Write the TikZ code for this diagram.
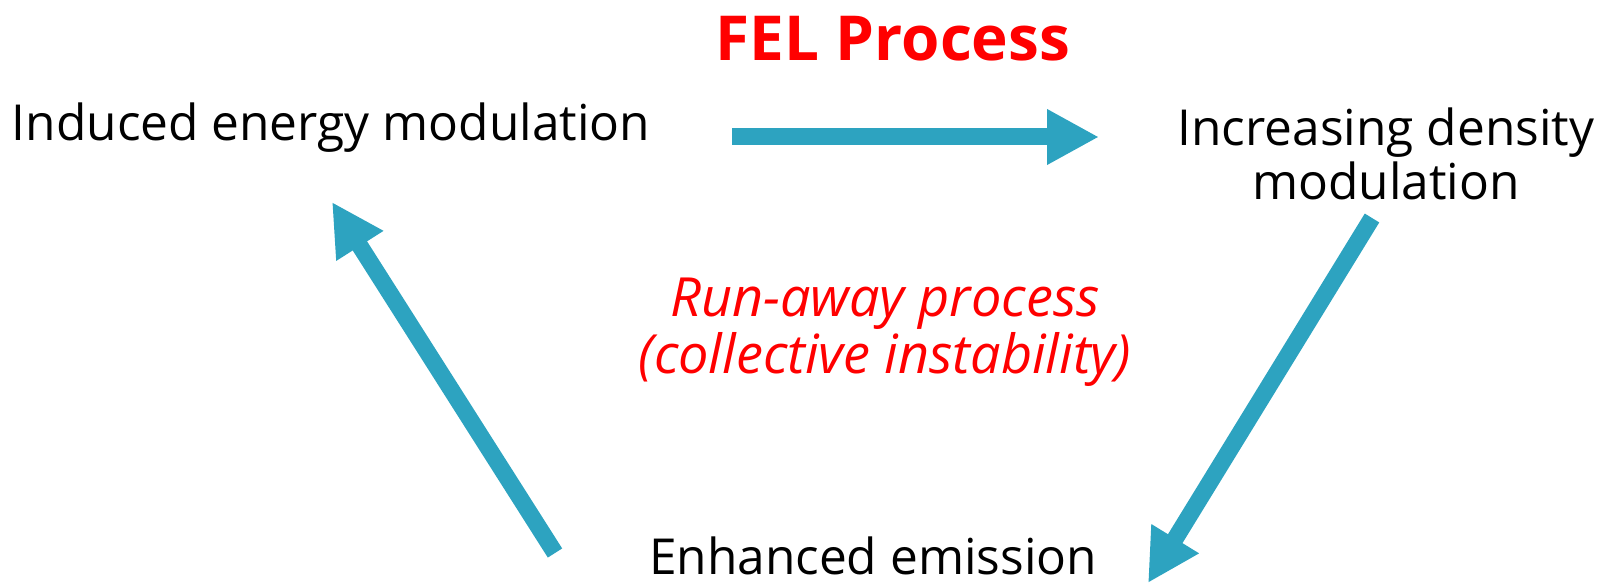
\documentclass[tikz,border=0pt]{standalone}
\usepackage{fontspec}
\setmainfont{Open Sans}
\usetikzlibrary{arrows.meta}
\definecolor{cteal}{rgb}{0.176, 0.639, 0.753}
\definecolor{cred}{rgb}{1.0, 0.0, 0.0}

\begin{document}
\begin{tikzpicture}[x=0.5pt, y=-0.5pt,
    label/.style={font=\fontsize{24.8}{26.6}\selectfont, align=center, inner sep=0},
    note/.style={font=\fontsize{27}{28.6}\selectfont\itshape, text=cred, align=center, inner sep=0},
    flow/.style={line width=8.5pt, draw=cteal, -{Triangle[length=26pt, width=26pt]}}]

\useasboundingbox (0, 0) rectangle (1604, 588);

% title
\node [font=\fontsize{31}{36}\selectfont\bfseries, text=cred, inner sep=0] (title) at (893, 39) {FEL Process};

% stages
\node [label] (energy) at (331, 128) {Induced energy modulation};
\node [label] (density) at (1386, 154) {Increasing density\\modulation};
\node [label] (emission) at (873, 556) {Enhanced emission};

% middle note
\node [note] (runaway) at (885, 332) {Run-away process\\(collective instability)};

% arrow ends
\coordinate (e1) at (732, 137);
\coordinate (d0) at (1099, 137);
\coordinate (d1) at (1372, 218);
\coordinate (m0) at (1148, 583);
\coordinate (m1) at (555, 553);
\coordinate (e0) at (332, 202);

% cycle
\draw [flow] (e1) -- (d0);
\draw [flow] (d1) -- (m0);
\draw [flow] (m1) -- (e0);

\end{tikzpicture}
\end{document}
